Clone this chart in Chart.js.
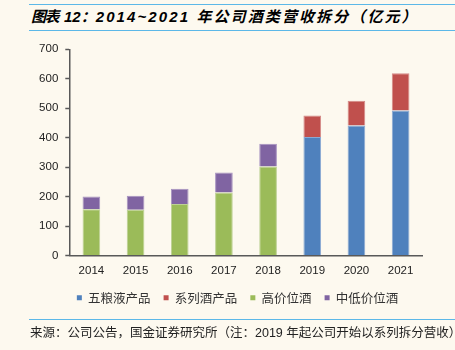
<!DOCTYPE html>
<html><head><meta charset="utf-8">
<script src="https://cdn.jsdelivr.net/npm/chart.js@4"></script>
<style>
html,body{margin:0;padding:0;background:#fdf9ef;}
#wrap{position:relative;width:455px;height:350px;overflow:hidden;background:#fdf9ef;}
.rule{position:absolute;left:29px;right:0;height:0;border-top:1.5px solid #5cb8e8;}
#title{position:absolute;left:31px;top:6px;font:italic bold 15px "Liberation Sans","Noto Sans CJK SC";color:#000;white-space:nowrap;line-height:20px;}
#title .cjk{font-family:"Noto Sans CJK SC";}
#footer{position:absolute;left:30px;top:323px;font:12.5px "Liberation Sans","Noto Sans CJK SC";color:#222;white-space:nowrap;line-height:17px;}
#footer .cjk{font-family:"Noto Sans CJK SC";}
canvas{position:absolute;left:0;top:0;}
</style></head>
<body>
<div id="wrap">
  <div class="rule" style="top:4px"></div>
  <div id="title"><span class="cjk" style="letter-spacing:-1.5px">图表</span><span style="margin-left:6px">12</span><span class="cjk">：</span><span style="letter-spacing:2.1px">2014~2021 <span class="cjk">年公司酒类营收拆分（亿元）</span></span></div>
  <div class="rule" style="top:29.5px"></div>
  <canvas id="c" width="455" height="350"></canvas>
  <div class="rule" style="top:318.5px"></div>
  <div id="footer"><span class="cjk">来源：公司公告，国金证券研究所（注：</span>2019 <span class="cjk">年起公司开始以系列拆分营收）</span></div>
</div>
<script>
const categories = ['2014','2015','2016','2017','2018','2019','2020','2021'];
const wlyProducts = [null,null,null,null,null,402,441,492];
const seriesLiquor = [null,null,null,null,null,73,84,127];
const highPrice = [157,155,175,214,302,null,null,null];
const midLowPrice = [43,48,52,68,77,null,null,null];
const yTickValues = [0,100,200,300,400,500,600,700];
const seriesNames = ['五粮液产品','系列酒产品','高价位酒','中低价位酒'];
const seriesColors = ['#4f81bd','#c0504d','#9bbb59','#8064a2'];
const seriesEdges = ['#8aa9d3','#d48a88','#bcd193','#a793c0'];

const tickFont = {family:'"Liberation Sans", Arial', size:11.5};
const legendShift = {
  id:'legendShift',
  afterLayout(chart){
    const lg = chart.legend; if(!lg) return;
    const dx = 16.25;
    lg.left += dx; lg.right += dx;
  }
};

new Chart(document.getElementById('c'), {
  type:'bar',
  data:{
    labels:categories,
    datasets:[wlyProducts, seriesLiquor, highPrice, midLowPrice].map((d,i)=>({
      label:seriesNames[i], data:d, backgroundColor:seriesColors[i],
      borderColor:seriesEdges[i], borderWidth:{left:1,right:1,top:1,bottom:0},
      barPercentage:0.4, categoryPercentage:1.0
    }))
  },
  options:{
    responsive:false, animation:false,
    layout:{padding:{left:20,right:32.3,top:49.3,bottom:36}},
    scales:{
      x:{stacked:true,
         grid:{display:true,drawOnChartArea:false,drawTicks:false},
         border:{display:true,color:'#595959',width:1.5},
         ticks:{color:'#222',font:tickFont,padding:8},
         afterFit(s){s.height=23;}},
      y:{stacked:true,min:0,max:700,
         afterBuildTicks(s){s.ticks = yTickValues.map(v=>({value:v}));},
         ticks:{color:'#222',font:tickFont,padding:7},
         grid:{drawOnChartArea:false,drawTicks:true,tickLength:4,tickColor:'#595959',tickWidth:1.5},
         border:{display:true,color:'#595959',width:1.5},
         afterFit(s){s.width=49.3;}}
    },
    plugins:{
      legend:{position:'bottom',
        labels:{boxWidth:5,boxHeight:5,padding:13,color:'#333',
          generateLabels(chart){
            return chart.data.datasets.map((ds,i)=>({text:ds.label,fillStyle:seriesColors[i],strokeStyle:seriesColors[i],lineWidth:0,hidden:false,datasetIndex:i,fontColor:'#333'}));
          },
          font:{family:'"Noto Sans CJK SC"',size:12.5}}},
      tooltip:{enabled:false}
    }
  },
  plugins:[legendShift]
});
</script>
</body></html>
